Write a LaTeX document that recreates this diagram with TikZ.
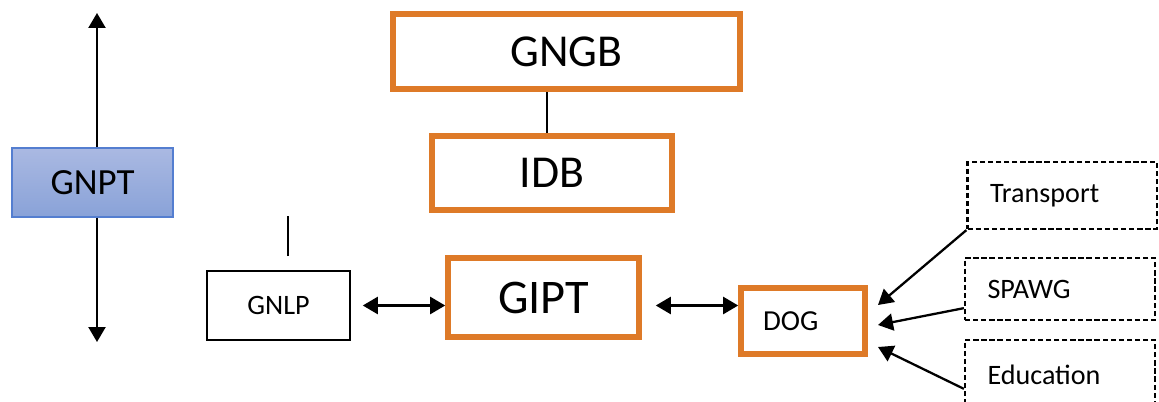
\documentclass[tikz,border=0pt]{standalone}
\usepackage{fontspec}
\setmainfont{Carlito}
\usepackage{tikz}
\usetikzlibrary{
  arrows.meta,
  calc
}
\definecolor{govorange}{RGB}{222,122,40}
\definecolor{gnptedge}{RGB}{84,126,208}
\definecolor{gnpttop}{RGB}{170,185,226}
\definecolor{gnptbot}{RGB}{137,162,216}
\tikzset{
  orgbox/.style={draw=govorange, line width=3.2pt, fill=white,
    inner sep=0pt, align=center},
  plainbox/.style={draw, line width=0.9pt, inner sep=0pt, align=center},
  sidebox/.style={draw, line width=1.3pt, dash pattern=on 3pt off 1.6pt,
    inner xsep=0.45cm, inner ysep=0pt, align=left},
  arr/.style={-{Triangle[length=0.3cm, width=0.34cm]}, line width=1.3pt},
  darr/.style={{Triangle[length=0.3cm, width=0.34cm]}-{Triangle[length=0.3cm, width=0.34cm]},
    line width=1.3pt},
}
\newcommand{\fsz}[1]{\fontsize{#1}{1.2\dimexpr#1pt\relax}\selectfont}

\begin{document}
\begin{tikzpicture}[
  x=0.02cm, y=-0.02cm,
  link/.style={line width=1.3pt}
]
  \path[use as bounding box] (0,0) rectangle (1159,402);
  \clip (0,0) rectangle (1159,402);

  % Central chain
  \node[orgbox, minimum width=6.94cm, minimum height=1.5cm, font=\fsz{26}]
    (gngb) at (566.5,51.5) {GNGB};
  \node[orgbox, minimum width=4.8cm, minimum height=1.48cm, font=\fsz{26}]
    (idb) at (552,173) {IDB};
  \node[orgbox, minimum width=3.82cm, minimum height=1.58cm, font=\fsz{27.5}]
    (gipt) at (543.5,297.5) {GIPT};
  \draw[link] ($(idb.north)+(-5,0)$) -- ($(idb.north |- gngb.south)+(-5,0)$);

  % Left side
  \node[draw=gnptedge, line width=0.8pt, top color=gnpttop, bottom color=gnptbot,
        inner sep=0pt, minimum width=3.22cm, minimum height=1.38cm, font=\fsz{21}]
    (gnpt) at (92.5,182.5) {GNPT};
  \coordinate (uptip) at (97,13);
  \coordinate (downtip) at (97,342);
  \draw[arr] (gnpt.north -| uptip) -- (uptip);
  \draw[arr] (gnpt.south -| uptip) -- (downtip);

  \node[plainbox, minimum width=2.86cm, minimum height=1.38cm, font=\fsz{16}]
    (gnlp) at (278.5,305.5) {GNLP};
  \draw[link] ($(gnlp.north)+(9.5,-14)$) -- ++(0,-40);

  % Right side
  \node[orgbox, minimum width=2.48cm, minimum height=1.32cm,
        inner xsep=0.44cm, text width=1.6cm, align=left, font=\fsz{16.5}]
    (dog) at (803,321) {DOG};
  \node[sidebox, text width=2.89cm, minimum height=1.34cm, font=\fsz{16}]
    (transport) at (1062.25,195.5) {Transport};
  \node[sidebox, text width=2.9cm, minimum height=1.24cm, font=\fsz{16}]
    (spawg) at (1060,289) {SPAWG};
  \node[sidebox, text width=2.9cm, minimum height=1.4cm, font=\fsz{16}]
    (education) at (1060,375) {Education};

  % Links
  \draw[darr, shorten <=0.24cm] (gnlp.east) -- (gnlp.east -| gipt.west);
  \draw[darr, shorten <=0.28cm] (gipt.east |- gnlp.east) -- (dog.west |- gnlp.east);

  \coordinate (tipa) at (878,305);
  \coordinate (tipb) at (878,325);
  \coordinate (tipc) at (878,347);
  \draw[arr] (transport.south west) -- (tipa);
  \draw[arr] ([yshift=0.26cm]spawg.south west) -- (tipb);
  \draw[arr] ([yshift=-1cm]education.north west) -- (tipc);
\end{tikzpicture}
\end{document}
